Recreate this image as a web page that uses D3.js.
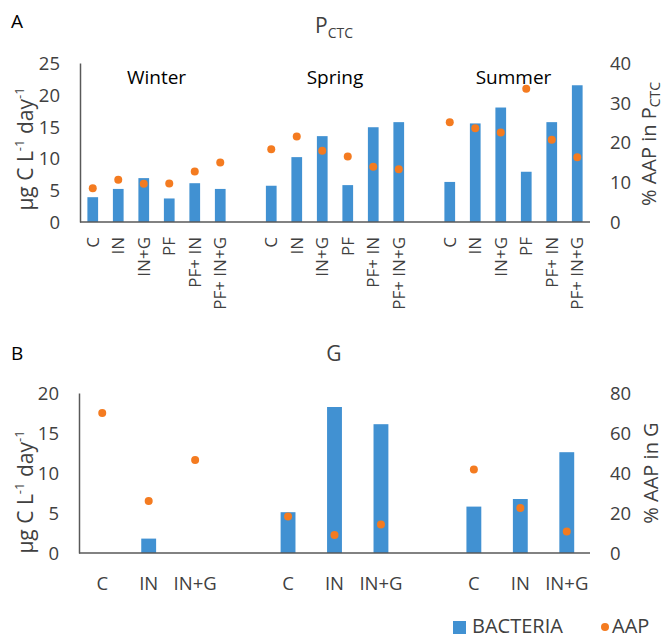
<!DOCTYPE html>
<html><head><meta charset="utf-8">
<script src="https://cdn.jsdelivr.net/npm/d3@7"></script>
<style>
body{margin:0;background:#fff;}
svg{display:block;font-family:"Open Sans",sans-serif;}
</style></head>
<body><svg id="c" width="667" height="639"></svg>
<script>
// ---- data ----
const seasons = ["Winter","Spring","Summer"];
const treatmentsA = ["C","IN","IN+G","PF","PF+ IN","PF+ IN+G"];
const bacteriaA = [3.9,5.2,6.9,3.7,6.1,5.2, 5.7,10.2,13.5,5.8,14.9,15.7, 6.3,15.5,18.0,7.9,15.7,21.5];
const aapA = [8.5,10.6,9.6,9.7,12.7,15.0, 18.3,21.5,17.9,16.5,13.9,13.3, 25.1,23.6,22.5,33.5,20.7,16.3];
const treatmentsB = ["C","IN","IN+G"];
const bacteriaB = [0,1.8,0, 5.1,18.25,16.1, 5.8,6.75,12.6];
const aapB = [70,26,46.5, 18.3,9,14.3, 41.7,22.5,10.8];
const leftTicksA = [0,5,10,15,20,25], rightTicksA = [0,10,20,30,40];
const leftTicksB = [0,5,10,15,20], rightTicksB = [0,20,40,60,80];

const BLUE = "#4191d2", ORANGE = "#f47b20", AX = "#595959", TXT = "#404040";
const svg = d3.select("#c");

function buildKeys(nPer){
  const keys = [], items = [];
  seasons.forEach((s, si) => {
    if (si > 0) keys.push("gap" + si);
    for (let i = 0; i < nPer; i++) { keys.push(s + "|" + i); items.push({season:s, si, i, key:s + "|" + i}); }
  });
  return {keys, items};
}

function panel(opts){
  const {x0,x1,yTop,yBot,leftMax,rightMax,leftTicks,rightTicks,treat,bact,aap,barFrac} = opts;
  const {keys, items} = buildKeys(treat.length);
  const pi = 1 - barFrac;
  const x = d3.scaleBand().domain(keys).range([x0,x1]).paddingInner(pi).paddingOuter(pi/2);
  const yL = d3.scaleLinear().domain([0,leftMax]).range([yBot,yTop]);
  const yR = d3.scaleLinear().domain([0,rightMax]).range([yBot,yTop]);
  const g = svg.append("g");
  items.forEach((d, k) => { d.b = bact[k]; d.a = aap[k]; d.label = treat[d.i]; });
  g.selectAll("rect.bar").data(items.filter(d => d.b > 0)).join("rect")
    .attr("x", d => x(d.key)).attr("width", x.bandwidth())
    .attr("y", d => yL(d.b)).attr("height", d => yL(0) - yL(d.b)).attr("fill", BLUE);
  const axL = d3.axisLeft(yL).tickValues(leftTicks).tickSize(0).tickPadding(20);
  const gl = g.append("g").attr("transform", `translate(${x0},0)`).call(axL);
  gl.select(".domain").attr("stroke", AX).attr("stroke-width", 1.5);
  gl.selectAll("text").attr("font-size", 18.5).attr("fill", TXT).attr("font-family", "Open Sans").attr("dy", "0.35em");
  const axR = d3.axisRight(yR).tickValues(rightTicks).tickSize(0).tickPadding(20);
  const gr = g.append("g").attr("transform", `translate(${x1},0)`).call(axR);
  gr.select(".domain").remove();
  gr.selectAll("text").attr("font-size", 18.5).attr("fill", TXT).attr("font-family", "Open Sans").attr("dy", "0.35em");
  g.append("line").attr("x1", x0).attr("x2", x1).attr("y1", yL(0)).attr("y2", yL(0))
    .attr("stroke", AX).attr("stroke-width", 1.5);
  g.selectAll("circle.dot").data(items).join("circle")
    .attr("cx", d => x(d.key) + x.bandwidth()/2).attr("cy", d => yR(d.a)).attr("r", 4).attr("fill", ORANGE);
  return {x, yL, yR, g, items};
}

// ---- Panel A ----
const A = panel({x0:80,x1:590,yTop:63,yBot:222,leftMax:25,rightMax:40,leftTicks:leftTicksA,rightTicks:rightTicksA,
  treat:treatmentsA,bact:bacteriaA,aap:aapA,barFrac:0.42});
A.g.selectAll("text.xl").data(A.items).join("text")
  .attr("transform", d => `translate(${A.x(d.key) + A.x.bandwidth()/2 + 6},237) rotate(-90)`)
  .attr("text-anchor", "end").attr("font-size", 17).attr("fill", TXT).text(d => d.label);
A.g.selectAll("text.season").data(seasons).join("text")
  .attr("x", (s) => { const a = A.x(s + "|0"), b = A.x(s + "|" + (treatmentsA.length-1)) + A.x.bandwidth(); return (a + b)/2; })
  .attr("y", 84).attr("text-anchor", "middle").attr("font-size", 19).attr("fill", "#000").text(s => s);

// ---- Panel B ----
const B = panel({x0:79,x1:590,yTop:393,yBot:553,leftMax:20,rightMax:80,leftTicks:leftTicksB,rightTicks:rightTicksB,
  treat:treatmentsB,bact:bacteriaB,aap:aapB,barFrac:0.32});
B.g.selectAll("text.xl").data(B.items).join("text")
  .attr("x", d => B.x(d.key) + B.x.bandwidth()/2).attr("y", 590)
  .attr("text-anchor", "middle").attr("font-size", 18.5).attr("fill", TXT).text(d => d.label);

// ---- titles ----
svg.append("text").attr("x", 11).attr("y", 28).attr("font-size", 19).attr("fill", "#000").text("A");
svg.append("text").attr("x", 11).attr("y", 360).attr("font-size", 19).attr("fill", "#000").text("B");
const t1 = svg.append("text").attr("x", 334).attr("y", 33).attr("text-anchor", "middle").attr("fill", TXT).attr("font-size", 21);
t1.append("tspan").text("P");
t1.append("tspan").attr("font-size", 14).attr("dy", 5).text("CTC");
svg.append("text").attr("x", 334).attr("y", 361).attr("text-anchor", "middle").attr("fill", TXT).attr("font-size", 21).text("G");

function yTitle(cx, cy){
  const t = svg.append("text").attr("transform", `translate(${cx},${cy}) rotate(-90)`)
    .attr("text-anchor", "middle").attr("fill", TXT).attr("font-size", 21);
  t.append("tspan").text("µg C L");
  t.append("tspan").attr("font-size", 13).attr("dy", -9).text("-1");
  t.append("tspan").attr("dy", 9).text(" day");
  t.append("tspan").attr("font-size", 13).attr("dy", -9).text("-1");
}
yTitle(33, 149);
yTitle(33, 492);
const r1 = svg.append("text").attr("transform", "translate(656,144) rotate(-90)")
  .attr("text-anchor", "middle").attr("fill", TXT).attr("font-size", 20);
r1.append("tspan").text("% AAP in P");
r1.append("tspan").attr("font-size", 14).attr("dy", 4).text("CTC");
svg.append("text").attr("transform", "translate(658,473) rotate(-90)")
  .attr("text-anchor", "middle").attr("fill", TXT).attr("font-size", 20).text("% AAP in G");

// ---- legend ----
const lg = svg.append("g");
lg.append("rect").attr("x", 453).attr("y", 621).attr("width", 13).attr("height", 13).attr("fill", BLUE);
lg.append("text").attr("x", 472).attr("y", 633).attr("font-size", 20).attr("fill", TXT).text("BACTERIA");
lg.append("circle").attr("cx", 605).attr("cy", 627).attr("r", 4).attr("fill", ORANGE);
lg.append("text").attr("x", 612).attr("y", 633).attr("font-size", 20).attr("fill", TXT).text("AAP");
</script></body></html>
